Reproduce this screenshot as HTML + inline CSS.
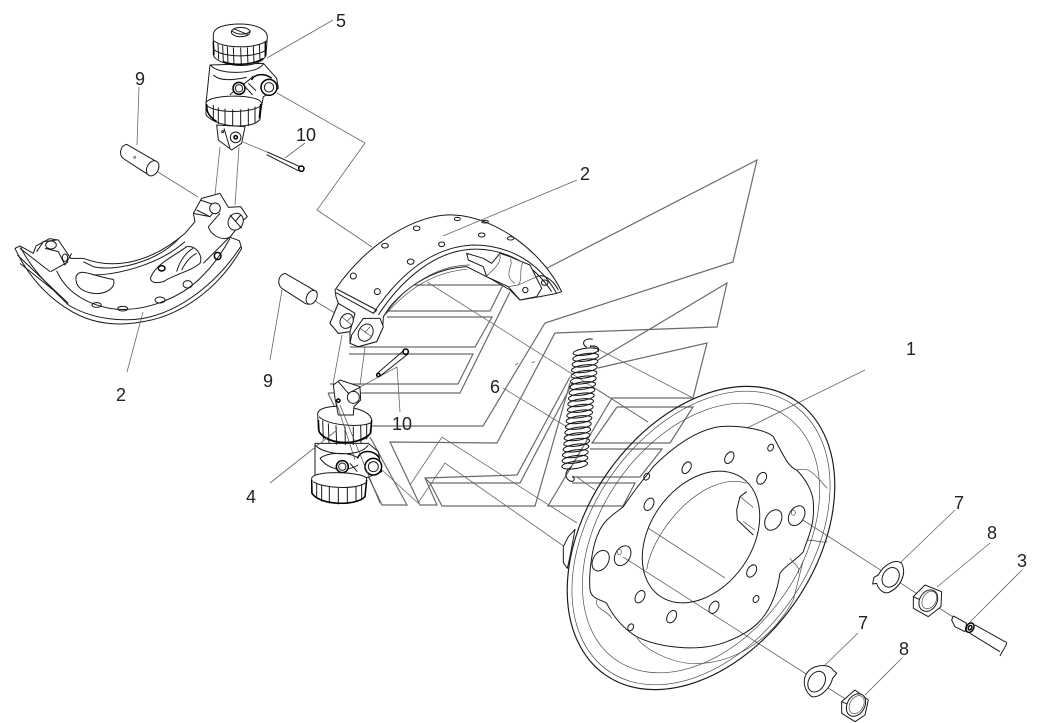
<!DOCTYPE html>
<html><head><meta charset="utf-8">
<style>
html,body{margin:0;padding:0;background:#fff}
svg{display:block}
.l{fill:none;stroke:#666;stroke-width:.8}
.k{fill:none;stroke:#6a6a6a;stroke-width:1.2}
.z{fill:none;stroke:#1a1a1a;stroke-width:3;stroke-linejoin:round}
.z .w{fill:#fff}
.z .t{stroke-width:2;stroke:#444}
.z .m{stroke-width:4.5;stroke:#000}
text{font-family:"Liberation Sans",sans-serif;font-size:18px;fill:#222;text-anchor:middle}
</style></head><body>
<svg width="1047" height="723" viewBox="0 0 1047 723" xmlns="http://www.w3.org/2000/svg">
<rect width="1047" height="723" fill="#fff"/>
<!-- zigzag axis lines -->
<g class="k">
<polyline points="520,282 757,160 733,262 545,323 483,426 370,426"/>
<polyline points="598,360 727,283 717,327 555,333 497,443 390,442 420,505 437,505 425,478 517,475 570,377"/>
<polyline points="598,368 707,343 693,398 612,398 548,506 623,506 635,483 572,483"/>
<polyline points="430,483 442,506 535,506 570,383"/>
<polyline points="425,478 430,483 520,483 573,382"/>
<polyline points="617,407 693,407 670,443 592,443 617,407"/>
<polyline points="590,449 662,449 640,477 572,477"/>
<polyline points="378,285 503,285 490,311 387,311"/>
<polyline points="387,317 492,317 475,347 350,347"/>
<polyline points="349,354 473,354 458,384 330,384"/>
<polyline points="328,393 460,393 510,292"/>
<polyline points="370,437 407,505 382,505 328,393"/>
</g>
<g class="l">
<polyline points="277,93 365,143 317,210 372,247"/>
<line x1="427" y1="282" x2="648" y2="422"/>
<line x1="590" y1="345" x2="693" y2="398"/>
<line x1="598" y1="390" x2="648" y2="422"/>
<line x1="577" y1="477" x2="595" y2="490"/>
<polyline points="382,470 418,503 445,463 565,547"/>
<polyline points="410,485 442,437 577,523"/>
<line x1="503" y1="388" x2="567" y2="427"/>
<polyline points="360,387 397,367 400,412"/>
<line x1="333" y1="20" x2="267" y2="58"/>
<line x1="139" y1="87" x2="137" y2="145"/>
<line x1="305" y1="143" x2="285" y2="158"/>
<line x1="243" y1="142" x2="267" y2="152"/>
<line x1="158" y1="172" x2="198" y2="197"/>
<line x1="282" y1="290" x2="270" y2="360"/>
<line x1="865" y1="370" x2="747" y2="428"/>
<line x1="1022" y1="570" x2="970" y2="622"/>
<line x1="990" y1="543" x2="937" y2="587"/>
<line x1="955" y1="510" x2="900" y2="563"/>
<line x1="858" y1="633" x2="823" y2="667"/>
<line x1="902" y1="658" x2="865" y2="695"/>
<line x1="803" y1="520" x2="953" y2="617"/>
<line x1="623" y1="557" x2="847" y2="700"/>
<line x1="648" y1="528" x2="725" y2="578"/>
<line x1="220" y1="147" x2="215" y2="195"/>
<line x1="239" y1="147" x2="235" y2="205"/>
<line x1="342" y1="335" x2="333" y2="384"/>
<line x1="365" y1="347" x2="360" y2="385"/>
<line x1="315" y1="301" x2="335" y2="313"/>
</g>

<!-- left side: zoom 1 coords -->
<g class="z" transform="scale(.33333)">
<!-- pin 9 -->
<path class="w" d="M380,433 C360,437 355,465 372,477 L443,523 C470,530 485,495 470,485 Z"/>
<ellipse class="w" cx="458" cy="505" rx="17" ry="24" transform="rotate(28 458 505)"/>
<circle cx="404" cy="472" r="3" class="t"/>
<!-- cotter -->
<path d="M802,456 L900,500 M800,464 L895,512"/>
<circle cx="904" cy="506" r="8" class="m"/>
<!-- cylinder 5 -->
<path class="w" d="M630,195 L618,310 L630,345 L780,345 L790,290 L835,265 L830,235 L790,190 Z"/>
<path class="w" d="M640,105 C640,80 680,72 720,72 C770,72 802,90 802,110 L798,165 C788,192 740,200 700,195 C670,190 645,180 640,165 Z"/>
<path d="M642,122 C665,145 770,148 800,122 M644,150 C668,172 765,175 798,150"/>
<path d="M654,130 L656,178 M668,136 L670,186 M682,140 L684,192 M700,142 L702,195 M722,143 L724,195 M742,142 L744,194 M760,138 L762,190 M778,132 L780,180"/>
<path class="m" d="M640,125 L642,165 M796,125 L796,170 M670,185 C700,198 760,195 790,175"/>
<ellipse class="w" cx="722" cy="96" rx="28" ry="14"/>
<path d="M695,92 C710,106 740,106 752,92 M700,86 L745,104"/>
<path d="M632,195 C650,225 770,225 790,192 M640,225 C660,245 700,240 740,232 M690,285 C700,270 740,250 760,228"/>
<path class="m" d="M755,240 C760,225 790,215 815,235"/>
<circle class="w m" cx="807" cy="262" r="24"/><circle cx="807" cy="262" r="14" class="w"/>
<circle class="w m" cx="717" cy="265" r="18"/><circle cx="717" cy="265" r="11" class="w"/>
<path d="M735,260 L758,285 M745,250 L768,272"/>
<path class="w" d="M618,310 C620,282 780,280 785,310 L780,358 C760,388 650,385 618,345 Z"/>
<path d="M622,318 C650,340 750,340 782,318 M640,315 L640,362 M655,322 L655,372 M675,326 L675,378 M698,328 L698,380 M722,328 L722,380 M745,325 L745,378 M765,320 L765,368"/>
<path class="m" d="M620,312 C620,330 620,345 650,365 M782,312 L778,355"/>
<path class="w" d="M650,375 L735,380 L725,430 L695,450 L655,420 Z"/>
<path d="M672,385 L690,445"/>
<circle cx="707" cy="412" r="16" class="w"/><circle cx="707" cy="412" r="5" class="m"/>
<circle cx="668" cy="395" r="3"/>
<!-- shoe -->
<path class="w" d="M45,745 C70,800 120,875 200,925 C270,972 350,980 430,965 C550,945 660,860 725,745 L718,722 L690,712 L725,665 L742,650 L722,620 L685,622 L660,580 L605,595 L580,640 L585,665 L555,700 C450,790 340,810 250,775 L212,775 L175,720 L148,716 L108,738 L100,760 L60,738 Z"/>
<path d="M62,742 C95,810 150,860 205,915 C280,960 370,965 430,955 C540,935 650,850 722,740"/>
<path d="M170,812 C195,870 250,910 330,925 C420,940 540,900 610,825 C640,795 665,760 690,715"/>
<path d="M60,790 L160,870 M52,765 L205,910"/>
<path d="M152,815 L205,785 M150,815 L60,745"/>
<path d="M228,830 C240,800 280,830 340,838 C350,860 320,885 280,880 C245,875 225,860 228,830 Z"/>
<path d="M250,785 L280,800 C340,815 470,790 540,712 M280,825 C340,825 470,800 555,725"/>
<path d="M452,832 C470,790 520,770 560,740 C590,735 610,770 600,790 C570,815 530,820 490,845 C470,850 450,850 452,832 Z"/>
<path d="M530,815 C540,780 560,755 580,745 M545,810 C555,790 570,770 590,760"/>
<path d="M610,790 L690,710 M625,680 C630,700 660,725 690,712 M660,640 L625,680"/>
<path d="M600,600 L655,618 L630,650 L590,630 M580,640 L630,650"/>
<circle cx="645" cy="625" r="16" class="w"/>
<ellipse class="w" cx="707" cy="665" rx="22" ry="26" transform="rotate(25 707 665)"/>
<path d="M690,645 L725,685 M722,645 L705,665"/>
<path d="M110,755 L130,725 L170,720 M135,745 L175,755 L195,795 L215,760"/>
<ellipse cx="153" cy="735" rx="16" ry="12"/>
<ellipse cx="195" cy="773" rx="8" ry="11"/>
<ellipse cx="485" cy="805" rx="10" ry="8" class="m"/>
<ellipse cx="653" cy="768" rx="10" ry="11" class="m"/>
<ellipse cx="563" cy="853" rx="14" ry="11"/>
<ellipse cx="480" cy="900" rx="15" ry="9"/>
<ellipse cx="368" cy="926" rx="15" ry="7"/>
<ellipse cx="290" cy="915" rx="14" ry="7"/>
</g>

<!-- centre: zoom 2 coords -->
<g class="z" transform="translate(270 150) scale(.33333)">
<!-- pin 9 lower -->
<path class="w" d="M45,370 L140,425 C145,445 125,470 105,460 L35,415 C20,400 25,375 45,370 Z"/>
<ellipse class="w" cx="125" cy="442" rx="15" ry="22" transform="rotate(28 125 442)"/>
<!-- shoe -->
<path class="w" d="M195,420 C290,280 440,190 550,195 C680,200 820,310 875,425 L860,430 L810,440 L750,450 L720,420 L660,385 L590,350 C500,355 420,400 360,470 L340,500 L338,535 L320,575 L265,590 L240,580 L240,545 L205,550 L180,520 L205,460 L198,440 Z"/>
<path d="M198,428 L310,490 L320,480 L200,417"/>
<path d="M310,490 C390,370 490,290 610,285 C720,285 810,340 860,430"/>
<path d="M325,495 C400,380 500,305 600,298 C700,292 790,340 845,425"/>
<path class="t" d="M345,495 C410,400 510,345 600,345 M350,490 C420,410 500,365 590,358"/>
<path class="w" d="M590,310 L640,325 L665,340 L690,310 L720,320 L755,335 L780,345 L815,415 L800,440 L750,450 L715,410 L650,380 L640,350 L595,330 Z"/>
<path class="t" d="M690,315 C695,345 660,365 650,378 M720,325 C735,345 695,375 735,400 M760,335 C745,360 760,385 745,405 L800,380 M715,410 L745,405"/>
<path d="M865,420 C850,390 820,370 800,380"/>
<circle cx="766" cy="420" r="8" class="w"/>
<ellipse cx="824" cy="398" rx="10" ry="8"/>
<path class="w" d="M180,520 L205,460 L255,490 L240,545 L205,550 Z"/>
<ellipse class="w" cx="230" cy="513" rx="19" ry="23" transform="rotate(28 230 513)"/>
<path class="t" d="M215,500 L245,525 M245,500 L230,515"/>
<path class="w" d="M245,555 L280,505 L330,505 L340,530 L320,575 L265,590 L240,580 Z"/>
<ellipse class="w" cx="287" cy="548" rx="21" ry="27" transform="rotate(28 287 548)"/>
<path class="t" d="M270,535 L305,560 M300,530 L285,548"/>
<ellipse cx="345" cy="287" rx="10" ry="7"/>
<ellipse cx="250" cy="378" rx="9" ry="9"/>
<ellipse cx="440" cy="235" rx="10" ry="7"/>
<ellipse cx="562" cy="207" rx="9" ry="5"/>
<ellipse cx="635" cy="255" rx="10" ry="6"/>
<ellipse cx="515" cy="283" rx="9" ry="7"/>
<ellipse cx="422" cy="335" rx="10" ry="8"/>
<ellipse cx="722" cy="265" rx="10" ry="5"/>
<ellipse cx="645" cy="215" rx="10" ry="4"/>
<ellipse cx="322" cy="425" rx="9" ry="9"/>
<!-- tiny marks -->
<path class="t" d="M735,645 L745,640 M785,638 L795,635"/>
<!-- cotter -->
<path d="M322,670 L405,598 M328,680 L414,612"/>
<circle class="w m" cx="407" cy="605" r="8"/>
<circle cx="325" cy="675" r="5" class="m"/>
<!-- cylinder 4 -->
<path class="w" d="M135,880 L135,975 L285,985 L335,965 L325,905 L295,880 Z"/>
<path class="w" d="M143,790 C150,755 300,765 305,810 L300,850 C290,885 170,890 145,840 Z"/>
<path d="M147,800 C170,825 270,835 303,818"/>
<path d="M158,812 L160,868 M175,820 L177,880 M198,826 L200,884 M225,830 L226,885 M250,830 L250,885 M272,826 L273,880 M290,822 L290,868"/>
<path class="m" d="M145,810 L147,845 C170,885 260,890 302,850 M305,810 L302,850"/>
<path d="M135,885 C160,915 270,925 295,885 M150,925 C175,905 240,905 265,925 M150,925 C180,965 230,965 265,945"/>
<path class="m" d="M262,925 C275,895 315,900 328,925"/>
<circle class="w m" cx="310" cy="950" r="25"/><circle cx="310" cy="950" r="15" class="w"/>
<circle class="w m" cx="217" cy="950" r="18"/><circle cx="217" cy="950" r="11" class="w"/>
<path d="M240,940 L262,965 M232,968 L275,985"/>
<path class="w" d="M125,985 C130,960 280,965 290,985 L285,1040 C260,1070 150,1065 125,1030 Z"/>
<path d="M130,995 C160,1015 255,1020 288,998 M140,1000 L140,1045 M155,1006 L155,1055 M178,1010 L178,1060 M205,1012 L205,1063 M232,1012 L232,1062 M258,1008 L258,1055 M275,1002 L275,1048"/>
<path class="m" d="M125,990 L126,1030 C150,1068 260,1068 285,1040 L290,990"/>
<path class="w" d="M190,705 L210,690 L270,710 L272,750 L252,770 L250,795 L205,795 L200,770 L195,745 Z"/>
<path d="M205,695 L235,730 L270,712"/>
<circle class="w" cx="250" cy="742" r="18"/>
<circle cx="205" cy="752" r="5" class="m"/>
<path class="t" d="M210,765 L330,1060 M200,760 L255,930"/>
<!-- spring -->
<g fill="none" stroke="#111" stroke-width="3">
<ellipse cx="947" cy="605" rx="38" ry="10" transform="rotate(-8 947 605)"/>
<ellipse cx="947" cy="622" rx="39" ry="11" transform="rotate(-8 947 622)"/>
<ellipse cx="945" cy="639" rx="39" ry="11" transform="rotate(-8 945 639)"/>
<ellipse cx="943" cy="656" rx="39" ry="11" transform="rotate(-8 943 656)"/>
<ellipse cx="942" cy="673" rx="39" ry="11" transform="rotate(-8 942 673)"/>
<ellipse cx="940" cy="690" rx="39" ry="11" transform="rotate(-8 940 690)"/>
<ellipse cx="938" cy="707" rx="39" ry="11" transform="rotate(-8 938 707)"/>
<ellipse cx="936" cy="724" rx="39" ry="11" transform="rotate(-8 936 724)"/>
<ellipse cx="934" cy="741" rx="39" ry="11" transform="rotate(-8 934 741)"/>
<ellipse cx="932" cy="758" rx="39" ry="11" transform="rotate(-8 932 758)"/>
<ellipse cx="931" cy="775" rx="39" ry="11" transform="rotate(-8 931 775)"/>
<ellipse cx="929" cy="792" rx="39" ry="11" transform="rotate(-8 929 792)"/>
<ellipse cx="927" cy="809" rx="39" ry="11" transform="rotate(-8 927 809)"/>
<ellipse cx="925" cy="826" rx="39" ry="11" transform="rotate(-8 925 826)"/>
<ellipse cx="923" cy="843" rx="39" ry="11" transform="rotate(-8 923 843)"/>
<ellipse cx="921" cy="860" rx="39" ry="11" transform="rotate(-8 921 860)"/>
<ellipse cx="920" cy="877" rx="39" ry="11" transform="rotate(-8 920 877)"/>
<ellipse cx="918" cy="894" rx="39" ry="11" transform="rotate(-8 918 894)"/>
<ellipse cx="916" cy="911" rx="39" ry="11" transform="rotate(-8 916 911)"/>
<ellipse cx="915" cy="928" rx="39" ry="11" transform="rotate(-8 915 928)"/>
<ellipse cx="914" cy="945" rx="39" ry="11" transform="rotate(-8 914 945)"/>
<path d="M968,568 C945,562 930,580 950,592 M985,605 C990,590 975,585 960,590"/>
<path d="M905,950 C880,965 885,985 900,993 C915,998 915,985 908,978"/>
</g>
</g>

<!-- disc: zoom 3 coords -->
<g class="z" transform="translate(540 370) scale(.33333)">
<ellipse cx="483" cy="504" rx="501" ry="342" transform="rotate(-55 483 504)" style="stroke-width:3.5"/>
<ellipse cx="483" cy="504" rx="486" ry="328" transform="rotate(-55 483 504)" class="t"/>
<ellipse cx="483" cy="504" rx="446" ry="302" transform="rotate(-55 483 504)" class="t"/>
<path d="M150,660 C155,690 190,690 200,700 C215,730 240,770 290,800 C350,830 470,850 560,815 C640,785 700,740 720,610 C730,590 770,570 790,545 C800,510 825,470 820,400 C820,370 800,330 770,300 C745,290 735,265 700,200 C680,180 600,165 540,170 C470,180 400,230 340,290 C310,330 290,350 250,410 C225,430 190,450 175,490 C160,520 145,600 150,660 Z"/>
<path class="t" d="M170,690 C165,720 195,715 215,745 M750,565 C770,590 780,590 775,610 M770,300 C810,290 820,310 862,355 M800,510 C830,510 840,520 862,515 M290,800 C300,830 400,890 490,880 C600,870 700,800 760,690 L790,570"/>
<ellipse cx="483" cy="501" rx="216" ry="153" transform="rotate(-55 483 501)"/>
<path class="t" d="M320,600 C340,470 500,300 620,340"/>
<!-- holes -->
<g>
<ellipse cx="692" cy="233" rx="8" ry="11" transform="rotate(30 692 233)"/>
<ellipse cx="568" cy="263" rx="12" ry="19" transform="rotate(30 568 263)"/>
<ellipse cx="440" cy="293" rx="12" ry="19" transform="rotate(30 440 293)"/>
<ellipse cx="665" cy="325" rx="13" ry="19" transform="rotate(30 665 325)"/>
<ellipse cx="327" cy="403" rx="13" ry="20" transform="rotate(30 327 403)"/>
<ellipse cx="700" cy="450" rx="23" ry="33" transform="rotate(30 700 450)"/>
<ellipse cx="770" cy="437" rx="22" ry="32" transform="rotate(30 770 437)"/>
<ellipse cx="182" cy="572" rx="23" ry="33" transform="rotate(30 182 572)"/>
<ellipse cx="248" cy="557" rx="22" ry="32" transform="rotate(30 248 557)"/>
<ellipse cx="635" cy="603" rx="13" ry="20" transform="rotate(30 635 603)"/>
<ellipse cx="300" cy="680" rx="13" ry="20" transform="rotate(30 300 680)"/>
<ellipse cx="522" cy="712" rx="13" ry="20" transform="rotate(30 522 712)"/>
<ellipse cx="395" cy="740" rx="13" ry="20" transform="rotate(30 395 740)"/>
<ellipse cx="648" cy="687" rx="8" ry="11" transform="rotate(30 648 687)"/>
<ellipse cx="272" cy="772" rx="8" ry="11" transform="rotate(30 272 772)"/>
<ellipse cx="320" cy="320" rx="8" ry="11" transform="rotate(30 320 320)"/>
<ellipse cx="760" cy="428" rx="6" ry="8" class="t"/>
<ellipse cx="238" cy="546" rx="6" ry="8" class="t"/>
</g>
<!-- window in hole -->
<path d="M590,420 L600,380 L620,365 M590,420 L592,450 L640,495"/>
<path class="t" d="M600,380 L640,412 M610,455 L645,480"/>
<!-- bracket -->
<path class="w" d="M70,530 L85,500 L105,478 L90,560 L82,595 L70,578 Z"/>
<!-- washer 7 -->
<path class="w" d="M1015,615 C1030,585 1065,565 1085,580 C1100,610 1085,650 1045,668 C1025,672 1012,650 1010,640 L998,642 L1002,622 Z"/>
<ellipse cx="1052" cy="622" rx="24" ry="31" transform="rotate(30 1052 622)"/>
<!-- nut 8 -->
<path class="w" d="M1120,680 L1155,645 L1205,665 L1203,710 L1165,740 L1120,715 Z"/>
<path d="M1120,680 L1165,700"/>
<ellipse class="w" cx="1165" cy="692" rx="26" ry="34" transform="rotate(30 1165 692)"/>
<ellipse cx="1168" cy="690" rx="20" ry="28" class="t" transform="rotate(30 1168 690)"/>
<!-- stud 3 -->
<path class="w" d="M1240,738 L1280,760 L1275,785 L1245,770 L1235,750 Z"/>
<ellipse cx="1290" cy="773" rx="11" ry="15" transform="rotate(30 1290 773)" class="m"/>
<ellipse cx="1290" cy="773" rx="5" ry="7" transform="rotate(30 1290 773)" class="m"/>
<path d="M1305,765 L1395,815 M1290,790 L1380,845 M1395,815 C1410,815 1385,845 1380,858"/>
<!-- washer 7 b -->
<path class="w" d="M800,910 C815,885 860,880 875,895 C880,905 888,905 890,910 L878,925 C870,955 840,985 815,980 C795,965 785,935 800,910 Z"/>
<ellipse cx="830" cy="935" rx="24" ry="33" transform="rotate(30 830 935)"/>
<!-- nut 8 b -->
<path class="w" d="M905,995 L945,960 L985,990 L975,1035 L945,1055 L905,1030 Z"/>
<path d="M905,995 L945,1012"/>
<ellipse class="w" cx="948" cy="1005" rx="26" ry="36" transform="rotate(30 948 1005)"/>
<ellipse cx="950" cy="1004" rx="20" ry="29" class="t" transform="rotate(30 950 1004)"/>
</g>

<!-- leaders drawn above parts -->
<g class="l">
<line x1="577" y1="180" x2="443" y2="236"/>
<line x1="270" y1="483" x2="337" y2="430"/>
<line x1="143" y1="312" x2="127" y2="372"/>
</g>
<!-- labels -->
<text x="341" y="27">5</text>
<text x="140" y="85">9</text>
<text x="306" y="141">10</text>
<text x="585" y="180">2</text>
<text x="268" y="387">9</text>
<text x="121" y="401">2</text>
<text x="402" y="430">10</text>
<text x="495" y="393">6</text>
<text x="251" y="503">4</text>
<text x="911" y="355">1</text>
<text x="959" y="509">7</text>
<text x="992" y="539">8</text>
<text x="1022" y="567">3</text>
<text x="863" y="629">7</text>
<text x="904" y="655">8</text>
</svg>
</body></html>
